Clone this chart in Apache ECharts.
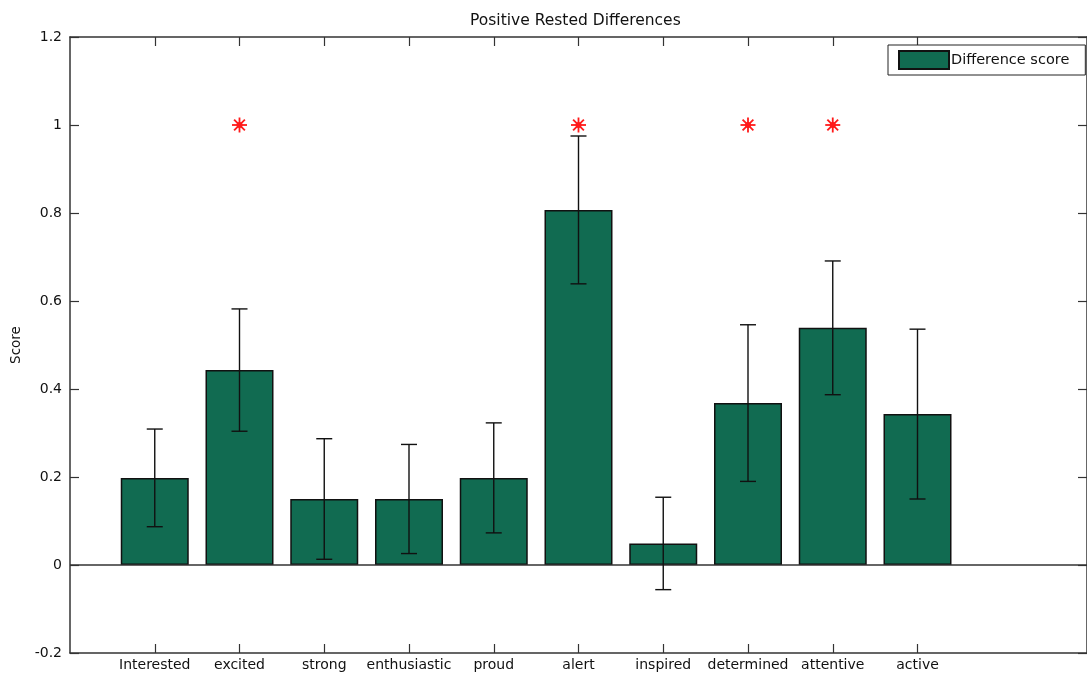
<!DOCTYPE html>
<html>
<head>
<meta charset="utf-8">
<script src="https://cdn.jsdelivr.net/npm/echarts@6/dist/echarts.min.js"></script>
<style>
html,body{margin:0;padding:0;background:#fff;}
#chart{width:1087px;height:676px;}
</style>
</head>
<body>
<div id="chart"></div>
<script>
const categories = ['Interested','excited','strong','enthusiastic','proud','alert','inspired','determined','attentive','active'];
const scores = [0.198, 0.443, 0.150, 0.150, 0.198, 0.807, 0.049, 0.368, 0.539, 0.343];
const errors = [0.111, 0.139, 0.137, 0.124, 0.125, 0.168, 0.105, 0.178, 0.152, 0.193];
const starCategories = ['excited','alert','determined','attentive'];
const starValues = [1, 1, 1, 1];
const yTicks = [-0.2, 0, 0.2, 0.4, 0.6, 0.8, 1, 1.2];

const positions = categories.map((c, i) => i + 1);
const barData = categories.map((c, i) => [positions[i], scores[i]]);
const errData = categories.map((c, i) => [positions[i], scores[i], errors[i]]);
const starData = starCategories.map((c, i) => [categories.indexOf(c) + 1, starValues[i]]);

const axisColor = '#333';
const font = 'DejaVu Sans, Liberation Sans, Arial, sans-serif';

const chart = echarts.init(document.getElementById('chart'));
chart.setOption({
  animation: false,
  backgroundColor: '#fff',
  title: {
    text: 'Positive Rested Differences',
    left: 465, top: 8,
    textStyle: {fontFamily: font, fontSize: 15.5, fontWeight: 'normal', color: '#111'}
  },
  legend: {
    left: 888, top: 45,
    itemWidth: 50, itemHeight: 18, itemGap: 4,
    icon: 'rect',
    borderColor: '#222', borderWidth: 1, borderRadius: 0,
    padding: [5, 16, 5, 10],
    backgroundColor: '#fff',
    textStyle: {fontFamily: font, fontSize: 14.5, color: '#111', padding: [0, 0, 0, -3]},
    data: ['Difference score']
  },
  grid: {left: 70, right: -2, top: 37, bottom: 23, containLabel: false},
  xAxis: [{
    type: 'value', min: 0, max: 12, interval: 1,
    position: 'bottom',
    splitLine: {show: false},
    axisLine: {show: true, onZero: false, lineStyle: {color: axisColor, width: 1.5}},
    axisTick: {show: true, inside: true, length: 9, customValues: positions, lineStyle: {color: axisColor, width: 1.2}},
    axisLabel: {show: true, customValues: positions, margin: 5,
      formatter: v => categories[Math.round(v) - 1] || '',
      fontFamily: font, fontSize: 14, color: '#111'}
  }, {
    type: 'value', min: 0, max: 12, interval: 1,
    position: 'top',
    splitLine: {show: false},
    axisLine: {show: true, onZero: false, lineStyle: {color: axisColor, width: 1.5}},
    axisTick: {show: true, inside: true, length: 9, customValues: positions, lineStyle: {color: axisColor, width: 1.2}},
    axisLabel: {show: false}
  }],
  yAxis: [{
    type: 'value', min: -0.2, max: 1.2, interval: 0.2,
    position: 'left',
    name: 'Score', nameLocation: 'middle', nameGap: 47, nameRotate: 90,
    nameTextStyle: {fontFamily: font, fontSize: 13.5, color: '#111'},
    splitLine: {show: false},
    axisLine: {show: true, onZero: false, lineStyle: {color: axisColor, width: 1.5}},
    axisTick: {show: true, inside: true, length: 9, lineStyle: {color: axisColor, width: 1.2}},
    axisLabel: {fontFamily: font, fontSize: 14, color: '#111', margin: 8,
      formatter: v => String(Math.round(v * 10) / 10)}
  }, {
    type: 'value', min: -0.2, max: 1.2, interval: 0.2,
    position: 'right',
    splitLine: {show: false},
    axisLine: {show: true, onZero: false, lineStyle: {color: axisColor, width: 1.5}},
    axisTick: {show: true, inside: true, length: 9, lineStyle: {color: axisColor, width: 1.2}},
    axisLabel: {show: false}
  }],
  series: [{
    name: 'Difference score',
    type: 'bar',
    xAxisIndex: 0, yAxisIndex: 0,
    barWidth: 68,
    data: barData,
    itemStyle: {color: '#116b51', borderColor: '#111', borderWidth: 1.5},
    markLine: {
      silent: true, symbol: 'none',
      label: {show: false},
      lineStyle: {color: axisColor, width: 1.5, type: 'solid'},
      data: [{yAxis: 0}]
    },
    z: 2
  }, {
    type: 'custom',
    xAxisIndex: 0, yAxisIndex: 0,
    data: errData,
    z: 5,
    renderItem: function (params, api) {
      const x = api.value(0), v = api.value(1), e = api.value(2);
      const top = api.coord([x, v + e]);
      const bot = api.coord([x, v - e]);
      const cap = 8;
      const style = {stroke: '#111', lineWidth: 1.4};
      return {type: 'group', children: [
        {type: 'line', shape: {x1: top[0], y1: top[1], x2: bot[0], y2: bot[1]}, style: style},
        {type: 'line', shape: {x1: top[0] - cap, y1: top[1], x2: top[0] + cap, y2: top[1]}, style: style},
        {type: 'line', shape: {x1: bot[0] - cap, y1: bot[1], x2: bot[0] + cap, y2: bot[1]}, style: style}
      ]};
    }
  }, {
    type: 'custom',
    xAxisIndex: 0, yAxisIndex: 0,
    data: starData,
    z: 6,
    renderItem: function (params, api) {
      const p = api.coord([api.value(0), api.value(1)]);
      const r = 7.5, d = r * 0.72;
      const style = {stroke: '#ff1a1a', lineWidth: 1.8};
      return {type: 'group', children: [
        {type: 'line', shape: {x1: p[0] - r, y1: p[1], x2: p[0] + r, y2: p[1]}, style: style},
        {type: 'line', shape: {x1: p[0], y1: p[1] - r, x2: p[0], y2: p[1] + r}, style: style},
        {type: 'line', shape: {x1: p[0] - d, y1: p[1] - d, x2: p[0] + d, y2: p[1] + d}, style: style},
        {type: 'line', shape: {x1: p[0] - d, y1: p[1] + d, x2: p[0] + d, y2: p[1] - d}, style: style},
        {type: 'circle', shape: {cx: p[0], cy: p[1], r: 3}, style: {fill: '#ff1a1a'}}
      ]};
    }
  }]
});
</script>
</body>
</html>
